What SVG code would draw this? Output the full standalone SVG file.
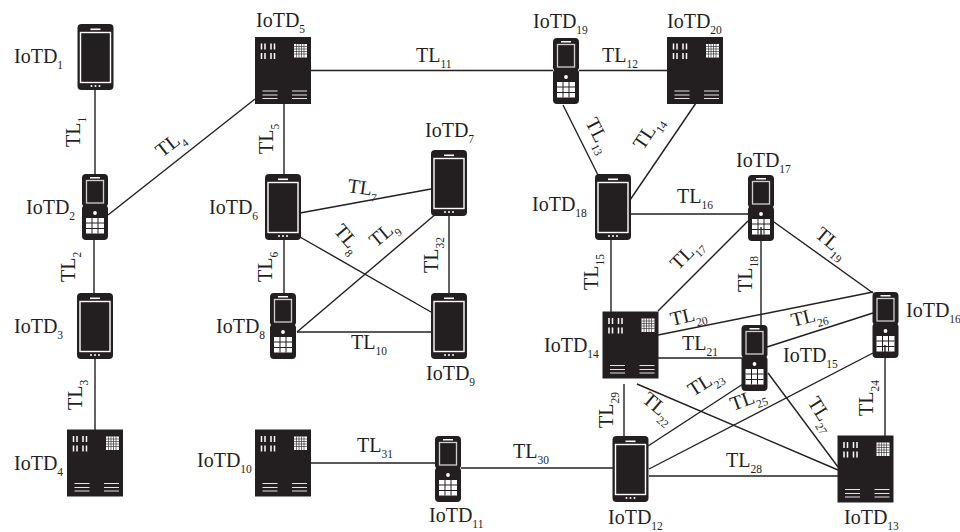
<svg xmlns="http://www.w3.org/2000/svg" width="960" height="532" viewBox="0 0 960 532">
<style>
text{font-family:"Liberation Serif","Times New Roman",serif;font-size:20px;fill:#231f20}
tspan.s{font-size:11.500px}
#connectors line{stroke:#231f20;stroke-width:1.4;fill:none}
.k{fill:#231f20}.w{fill:#fff}
</style>
<defs>
<g id="slab">
<rect class="k" x="-18" y="-33" width="36" height="66" rx="4"/>
<rect class="w" x="-5" y="-28.500" width="10" height="1.600"/>
<rect x="-15" y="-24.500" width="30" height="50" fill="#231f20" stroke="#fff" stroke-width="1.400"/>
<circle class="w" cx="-4" cy="29" r="1"/><circle class="w" cx="0" cy="29" r="1"/><circle class="w" cx="4" cy="29" r="1"/>
</g>
<g id="flip">
<path class="k" d="M-9-33H9Q13-33 13-29V-3L12-1 13 1V29Q13 33 9 33H-9Q-13 33-13 29V1L-12-1-13-3V-29Q-13-33-9-33Z"/>
<rect class="w" x="-5" y="-30" width="10" height="1.500"/>
<rect x="-8.500" y="-26.500" width="17" height="22.500" fill="#231f20" stroke="#d0cfcf" stroke-width="1.300"/>
<circle class="w" cx="0" cy="6" r="1.900"/>
<rect class="w" x="-9" y="11" width="18" height="15.500"/>
<path d="M-3 11V26.500M3 11V26.500M-9 16H9M-9 21.500H9" stroke="#231f20" stroke-width="1" fill="none"/>
</g>
<g id="server">
<rect class="k" x="-28" y="-33.500" width="56" height="67"/>
<path d="M-21.500-27v6M-21.500-17.500v6M-18-27v6M-18-17.500v6M-12-27v6M-12-17.500v6M-8.500-27v6M-8.500-17.500v6" stroke="#fff" stroke-width="1.500" fill="none"/>
<rect class="w" x="11" y="-26.500" width="13" height="13.500"/>
<path d="M13.500-26.500v13.500M16-26.500v13.500M18.500-26.500v13.500M21-26.500v13.500M11-24h13M11-21.500h13M11-19h13M11-16.500h13" stroke="#231f20" stroke-width=".6" fill="none"/>
<path d="M-20.500 20.500h15M-20.500 24.500h15M-20.500 28h15M9 20.500h15M9 24.500h15M9 28h15" stroke="#e4e4e4" stroke-width="1.200" fill="none"/>
</g>
</defs>
<g id="IoTD1"><use href="#slab" x="95.500" y="57"/><text x="14" y="63">IoTD<tspan class="s" dy="6">1</tspan></text></g>
<g id="IoTD2"><use href="#flip" x="95" y="207"/><text x="26" y="214">IoTD<tspan class="s" dy="6">2</tspan></text></g>
<g id="IoTD3"><use href="#slab" x="95" y="326"/><text x="14" y="333">IoTD<tspan class="s" dy="6">3</tspan></text></g>
<g id="IoTD4"><use href="#server" x="95" y="463"/><text x="14" y="470">IoTD<tspan class="s" dy="6">4</tspan></text></g>
<g id="IoTD5"><use href="#server" x="283" y="70.500"/><text x="256" y="27">IoTD<tspan class="s" dy="6">5</tspan></text></g>
<g id="IoTD6"><use href="#slab" x="283" y="207"/><text x="209" y="214">IoTD<tspan class="s" dy="6">6</tspan></text></g>
<g id="IoTD7"><use href="#slab" x="449" y="183"/><text x="425" y="137">IoTD<tspan class="s" dy="6">7</tspan></text></g>
<g id="IoTD8"><use href="#flip" x="283" y="326"/><text x="216" y="333">IoTD<tspan class="s" dy="6">8</tspan></text></g>
<g id="IoTD9"><use href="#slab" x="449" y="326"/><text x="426" y="380">IoTD<tspan class="s" dy="6">9</tspan></text></g>
<g id="IoTD10"><use href="#server" x="283" y="463"/><text x="197" y="467">IoTD<tspan class="s" dy="6">10</tspan></text></g>
<g id="IoTD11"><use href="#flip" x="448" y="469"/><text x="429" y="522">IoTD<tspan class="s" dy="6">11</tspan></text></g>
<g id="IoTD12"><use href="#slab" x="630.500" y="469"/><text x="608" y="524">IoTD<tspan class="s" dy="6">12</tspan></text></g>
<g id="IoTD13"><use href="#server" x="865.500" y="469"/><text x="844" y="524">IoTD<tspan class="s" dy="6">13</tspan></text></g>
<g id="IoTD14"><use href="#server" x="630.500" y="345"/><text x="544" y="352">IoTD<tspan class="s" dy="6">14</tspan></text></g>
<g id="IoTD15"><use href="#flip" x="754.500" y="358"/><text x="783" y="362">IoTD<tspan class="s" dy="6">15</tspan></text></g>
<g id="IoTD16"><use href="#flip" x="885.500" y="325"/><text x="906" y="317">IoTD<tspan class="s" dy="6">16</tspan></text></g>
<g id="IoTD17"><use href="#flip" x="761" y="208"/><text x="736" y="167">IoTD<tspan class="s" dy="6">17</tspan></text></g>
<g id="IoTD18"><use href="#slab" x="613" y="207"/><text x="532" y="211">IoTD<tspan class="s" dy="6">18</tspan></text></g>
<g id="IoTD19"><use href="#flip" x="566" y="71"/><text x="533" y="28">IoTD<tspan class="s" dy="6">19</tspan></text></g>
<g id="IoTD20"><use href="#server" x="695" y="70.500"/><text x="667" y="28">IoTD<tspan class="s" dy="6">20</tspan></text></g>
<g id="connectors">
<line x1="95" y1="90" x2="95" y2="174"/>
<line x1="94" y1="240" x2="94" y2="293"/>
<line x1="95" y1="359" x2="95" y2="430"/>
<line x1="108" y1="215" x2="255" y2="99"/>
<line x1="284" y1="104" x2="284" y2="174"/>
<line x1="284" y1="240" x2="284" y2="293"/>
<line x1="311" y1="70.500" x2="553" y2="70.500"/>
<line x1="579" y1="70.500" x2="667" y2="70.500"/>
<line x1="300" y1="213" x2="431" y2="189"/>
<line x1="300" y1="237" x2="431" y2="312"/>
<line x1="297" y1="332" x2="437" y2="213"/>
<line x1="297" y1="332" x2="431" y2="332"/>
<line x1="449" y1="216" x2="449" y2="293"/>
<line x1="461" y1="468" x2="613" y2="468"/>
<line x1="311" y1="463" x2="435" y2="463"/>
<line x1="563" y1="105" x2="598" y2="175"/>
<line x1="696" y1="103" x2="630" y2="200"/>
<line x1="631" y1="214" x2="748" y2="214"/>
<line x1="611" y1="240" x2="611" y2="312"/>
<line x1="658" y1="311" x2="748" y2="221"/>
<line x1="761" y1="227" x2="761" y2="325"/>
<line x1="774" y1="222" x2="873" y2="293"/>
<line x1="658" y1="335" x2="873" y2="292"/>
<line x1="658" y1="358" x2="742" y2="358"/>
<line x1="637" y1="384" x2="838" y2="470"/>
<line x1="648" y1="446" x2="743" y2="384"/>
<line x1="885" y1="345" x2="885" y2="436"/>
<line x1="649" y1="469" x2="873" y2="353"/>
<line x1="767" y1="347" x2="873" y2="313"/>
<line x1="768" y1="373" x2="838" y2="467"/>
<line x1="649" y1="476" x2="838" y2="476"/>
<line x1="624" y1="384" x2="624" y2="436"/>
</g>
<g id="labels">
<text transform="translate(80,147) rotate(-90)">TL<tspan class="s" dy="6">1</tspan></text>
<text transform="translate(75,282) rotate(-90)">TL<tspan class="s" dy="6">2</tspan></text>
<text transform="translate(82,410) rotate(-90)">TL<tspan class="s" dy="6">3</tspan></text>
<text transform="translate(162,158) rotate(-38)">TL<tspan class="s" dy="6">4</tspan></text>
<text transform="translate(273,154) rotate(-90)">TL<tspan class="s" dy="6">5</tspan></text>
<text transform="translate(272,282) rotate(-90)">TL<tspan class="s" dy="6">6</tspan></text>
<text transform="translate(347,192) rotate(8)">TL<tspan class="s" dy="6">7</tspan></text>
<text transform="translate(333,231) rotate(50)">TL<tspan class="s" dy="6">8</tspan></text>
<text transform="translate(376,248) rotate(-40)">TL<tspan class="s" dy="6">9</tspan></text>
<text x="351" y="349">TL<tspan class="s" dy="6">10</tspan></text>
<text x="416" y="62">TL<tspan class="s" dy="6">11</tspan></text>
<text x="602" y="62">TL<tspan class="s" dy="6">12</tspan></text>
<text transform="translate(585,122) rotate(63)">TL<tspan class="s" dy="6">13</tspan></text>
<text transform="translate(643,151) rotate(-56)">TL<tspan class="s" dy="6">14</tspan></text>
<text transform="translate(598,290) rotate(-90)">TL<tspan class="s" dy="6">15</tspan></text>
<text x="677" y="203">TL<tspan class="s" dy="6">16</tspan></text>
<text transform="translate(678,271) rotate(-45)">TL<tspan class="s" dy="6">17</tspan></text>
<text transform="translate(752,292) rotate(-90)">TL<tspan class="s" dy="6">18</tspan></text>
<text transform="translate(814,236) rotate(40)">TL<tspan class="s" dy="6">19</tspan></text>
<text transform="translate(672,326) rotate(-13)">TL<tspan class="s" dy="6">20</tspan></text>
<text x="682" y="350">TL<tspan class="s" dy="6">21</tspan></text>
<text transform="translate(641,401) rotate(40)">TL<tspan class="s" dy="6">22</tspan></text>
<text transform="translate(693,397) rotate(-32)">TL<tspan class="s" dy="6">23</tspan></text>
<text transform="translate(873,416) rotate(-90)">TL<tspan class="s" dy="6">24</tspan></text>
<text transform="translate(733,411) rotate(-20)">TL<tspan class="s" dy="6">25</tspan></text>
<text transform="translate(793,327) rotate(-14)">TL<tspan class="s" dy="6">26</tspan></text>
<text transform="translate(807,402) rotate(58)">TL<tspan class="s" dy="6">27</tspan></text>
<text x="726" y="467">TL<tspan class="s" dy="6">28</tspan></text>
<text transform="translate(613,428) rotate(-90)">TL<tspan class="s" dy="6">29</tspan></text>
<text x="513" y="458">TL<tspan class="s" dy="6">30</tspan></text>
<text x="357" y="452">TL<tspan class="s" dy="6">31</tspan></text>
<text transform="translate(438,273) rotate(-90)">TL<tspan class="s" dy="6">32</tspan></text>
</g>
</svg>
